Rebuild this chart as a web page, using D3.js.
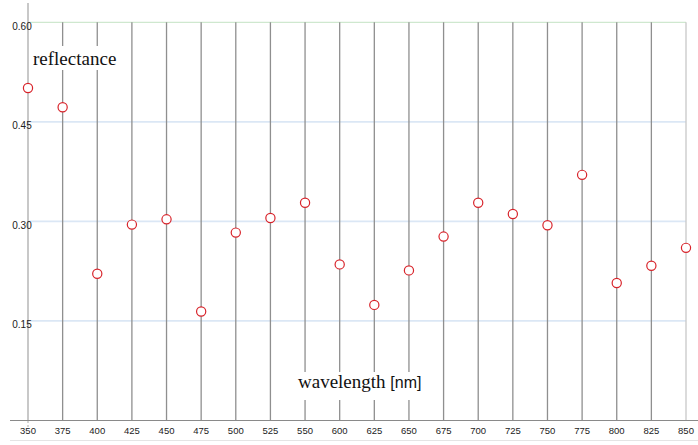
<!DOCTYPE html>
<html><head><meta charset="utf-8">
<script src="https://cdn.jsdelivr.net/npm/d3@7"></script>
<style>body{margin:0;background:#fff}svg{display:block}</style>
</head><body>
<script>
const wavelengths = ["350","375","400","425","450","475","500","525","550","600","625","650","675","700","725","750","775","800","825","850"];
const reflectance = [0.501,0.472,0.221,0.295,0.303,0.164,0.283,0.305,0.328,0.235,0.174,0.226,0.277,0.328,0.311,0.294,0.370,0.207,0.233,0.260];
const yTicks = [0.15,0.30,0.45,0.60];

const W=698,H=445;
const svg=d3.select("body").append("svg").attr("width",W).attr("height",H);
const x=d3.scalePoint().domain(wavelengths).range([28,686]);
const y=d3.scaleLinear().domain([0,0.6]).range([420.3,22.3]);

// horizontal grid
svg.selectAll("line.hg").data(yTicks).enter().append("line")
  .attr("x1",28).attr("x2",686).attr("y1",d=>y(d)).attr("y2",d=>y(d))
  .attr("stroke",d=>d===0.6?"#cfe8cf":"#dbe7f5").attr("stroke-width",d=>d===0.6?1.2:1.8);

// vertical grid
svg.selectAll("line.vg").data(wavelengths.slice(1)).enter().append("line")
  .attr("x1",d=>x(d)).attr("x2",d=>x(d)).attr("y1",y(0.6)).attr("y2",420)
  .attr("stroke",(d,i)=>i===wavelengths.length-2?"#c8c8c8":"#8f8f8f").attr("stroke-width",1.3);

// y axis line
svg.append("line").attr("x1",x("350")).attr("x2",x("350")).attr("y1",3).attr("y2",420)
  .attr("stroke","#c8c8c8").attr("stroke-width",2);
svg.append("line").attr("x1",x("350")).attr("x2",x("350")).attr("y1",421).attr("y2",428)
  .attr("stroke","#c8c8c8").attr("stroke-width",1.5).attr("stroke-dasharray","2,2");

// x axis line & bottom line
svg.append("line").attr("x1",10).attr("x2",W).attr("y1",420.5).attr("y2",420.5).attr("stroke","#8a8a8a").attr("stroke-width",1);
svg.append("line").attr("x1",10).attr("x2",W).attr("y1",440.5).attr("y2",440.5).attr("stroke","#e4e4e4").attr("stroke-width",1);

// tick labels
svg.selectAll("text.xt").data(wavelengths).enter().append("text")
  .attr("x",d=>x(d)).attr("y",433.5).attr("text-anchor","middle")
  .attr("font-family","Liberation Sans, Arial, sans-serif").attr("font-size",9.5).attr("fill","#222")
  .text(d=>d);
svg.selectAll("text.yt").data(yTicks).enter().append("text")
  .attr("x",22).attr("y",d=>y(d)+7.5).attr("text-anchor","middle")
  .attr("font-family","Liberation Sans, Arial, sans-serif").attr("font-size",10).attr("fill","#222")
  .text(d=>d.toFixed(2));

// labels with white background
svg.append("rect").attr("x",31).attr("y",46).attr("width",90).attr("height",24).attr("fill","#fff");
svg.append("text").attr("x",33).attr("y",64.5).attr("font-family","Liberation Serif, Times New Roman, serif")
  .attr("font-size",19).attr("fill","#111").text("reflectance");

svg.append("rect").attr("x",296).attr("y",372).attr("width",130).attr("height",28).attr("fill","#fff");
const t=svg.append("text").attr("x",298).attr("y",388).attr("fill","#111");
t.append("tspan").attr("font-family","Liberation Serif, Times New Roman, serif").attr("font-size",19).text("wavelength ");
t.append("tspan").attr("font-family","Liberation Sans, Arial, sans-serif").attr("font-size",16).text("[nm]");

// points
svg.selectAll("circle.pt").data(wavelengths).enter().append("circle")
  .attr("cx",d=>x(d)).attr("cy",(d,i)=>y(reflectance[i])).attr("r",4.6)
  .attr("fill","#fff").attr("stroke","#d8232a").attr("stroke-width",1.2);
</script>
</body></html>
